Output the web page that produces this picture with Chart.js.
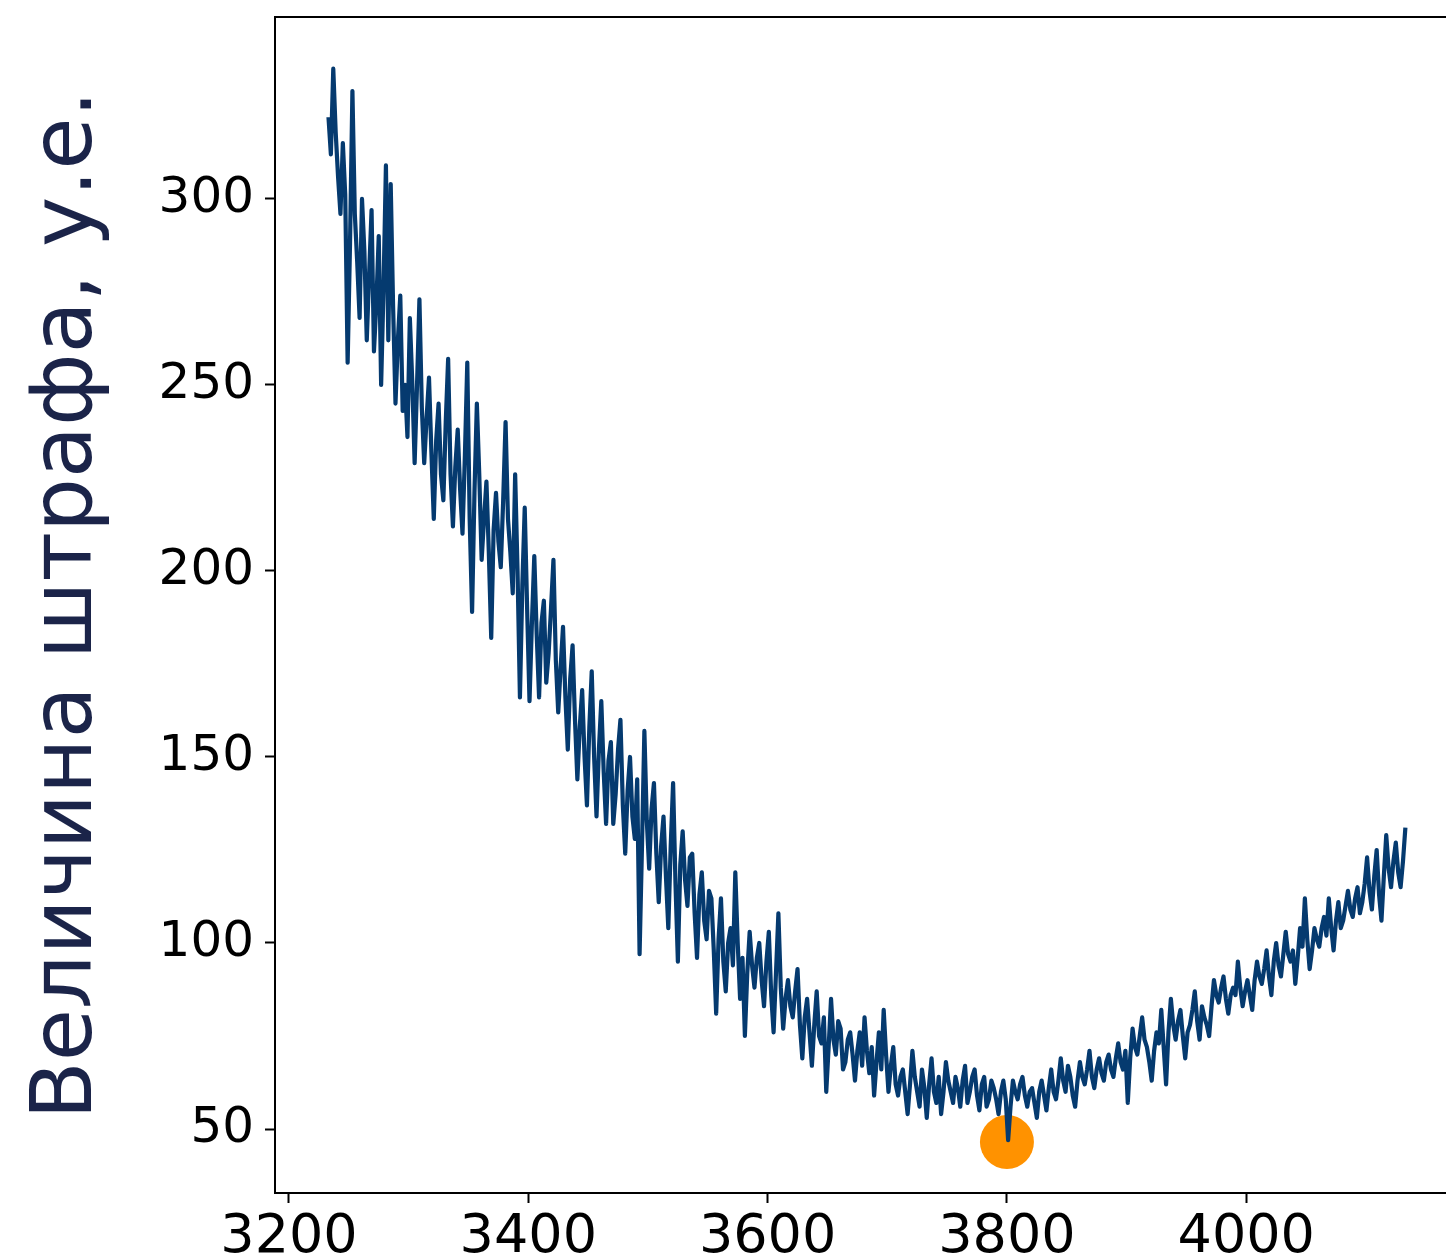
<!DOCTYPE html>
<html>
<head>
<meta charset="utf-8">
<script src="https://cdn.jsdelivr.net/npm/chart.js@4.4.1/dist/chart.umd.min.js"></script>
<style>
	html, body { margin: 0; padding: 0; background: #fff; }
	#wrap { width: 1446px; height: 1260px; overflow: hidden; }
</style>
</head>
<body>
<div id="wrap"><canvas id="penalty-chart" width="1470" height="1260"></canvas></div>
<script>
var xValues = [
	3233, 3235, 3237, 3239, 3241, 3243, 3245, 3247, 3249, 3251, 3253, 3255, 3257, 3259, 3261, 3263, 3265, 3267, 3269, 3271,
	3273, 3275, 3277, 3279, 3281, 3283, 3285, 3287, 3289, 3291, 3293, 3295, 3297, 3299, 3301, 3303, 3305, 3307, 3309, 3311,
	3313, 3315, 3317, 3319, 3321, 3323, 3325, 3327, 3329, 3331, 3333, 3335, 3337, 3339, 3341, 3343, 3345, 3347, 3349, 3351,
	3353, 3355, 3357, 3359, 3361, 3363, 3365, 3367, 3369, 3371, 3373, 3375, 3377, 3379, 3381, 3383, 3385, 3387, 3389, 3391,
	3393, 3395, 3397, 3399, 3401, 3403, 3405, 3407, 3409, 3411, 3413, 3415, 3417, 3419, 3421, 3423, 3425, 3427, 3429, 3431,
	3433, 3435, 3437, 3439, 3441, 3443, 3445, 3447, 3449, 3451, 3453, 3455, 3457, 3459, 3461, 3463, 3465, 3467, 3469, 3471,
	3473, 3475, 3477, 3479, 3481, 3483, 3485, 3487, 3489, 3491, 3493, 3495, 3497, 3499, 3501, 3503, 3505, 3507, 3509, 3511,
	3513, 3515, 3517, 3519, 3521, 3523, 3525, 3527, 3529, 3531, 3533, 3535, 3537, 3539, 3541, 3543, 3545, 3547, 3549, 3551,
	3553, 3555, 3557, 3559, 3561, 3563, 3565, 3567, 3569, 3571, 3573, 3575, 3577, 3579, 3581, 3583, 3585, 3587, 3589, 3591,
	3593, 3595, 3597, 3599, 3601, 3603, 3605, 3607, 3609, 3611, 3613, 3615, 3617, 3619, 3621, 3623, 3625, 3627, 3629, 3631,
	3633, 3635, 3637, 3639, 3641, 3643, 3645, 3647, 3649, 3651, 3653, 3655, 3657, 3659, 3661, 3663, 3665, 3667, 3669, 3671,
	3673, 3675, 3677, 3679, 3681, 3683, 3685, 3687, 3689, 3691, 3693, 3695, 3697, 3699, 3701, 3703, 3705, 3707, 3709, 3711,
	3713, 3715, 3717, 3719, 3721, 3723, 3725, 3727, 3729, 3731, 3733, 3735, 3737, 3739, 3741, 3743, 3745, 3747, 3749, 3751,
	3753, 3755, 3757, 3759, 3761, 3763, 3765, 3767, 3769, 3771, 3773, 3775, 3777, 3779, 3781, 3783, 3785, 3787, 3789, 3791,
	3793, 3795, 3797, 3799, 3801, 3803, 3805, 3807, 3809, 3811, 3813, 3815, 3817, 3819, 3821, 3823, 3825, 3827, 3829, 3831,
	3833, 3835, 3837, 3839, 3841, 3843, 3845, 3847, 3849, 3851, 3853, 3855, 3857, 3859, 3861, 3863, 3865, 3867, 3869, 3871,
	3873, 3875, 3877, 3879, 3881, 3883, 3885, 3887, 3889, 3891, 3893, 3895, 3897, 3899, 3901, 3903, 3905, 3907, 3909, 3911,
	3913, 3915, 3917, 3919, 3921, 3923, 3925, 3927, 3929, 3931, 3933, 3935, 3937, 3939, 3941, 3943, 3945, 3947, 3949, 3951,
	3953, 3955, 3957, 3959, 3961, 3963, 3965, 3967, 3969, 3971, 3973, 3975, 3977, 3979, 3981, 3983, 3985, 3987, 3989, 3991,
	3993, 3995, 3997, 3999, 4001, 4003, 4005, 4007, 4009, 4011, 4013, 4015, 4017, 4019, 4021, 4023, 4025, 4027, 4029, 4031,
	4033, 4035, 4037, 4039, 4041, 4043, 4045, 4047, 4049, 4051, 4053, 4055, 4057, 4059, 4061, 4063, 4065, 4067, 4069, 4071,
	4073, 4075, 4077, 4079, 4081, 4083, 4085, 4087, 4089, 4091, 4093, 4095, 4097, 4099, 4101, 4103, 4105, 4107, 4109, 4111,
	4113, 4115, 4117, 4119, 4121, 4123, 4125, 4127, 4129, 4131, 4133
];

var penaltyValues = [
	322, 312, 335, 318, 306, 296, 315, 301, 256, 288, 329, 296, 283, 268, 300, 286, 262, 280, 297, 259,
	272, 290, 250, 276, 309, 262, 304, 271, 245, 262, 274, 243, 250, 236, 268, 251, 229, 250, 273, 244,
	229, 241, 252, 232, 214, 235, 245, 226, 219, 240, 257, 226, 212, 228, 238, 222, 210, 231, 256, 214,
	189, 221, 245, 226, 203, 214, 224, 205, 182, 211, 221, 208, 201, 219, 240, 214, 205, 194, 226, 200,
	166, 196, 217, 190, 165, 186, 204, 183, 166, 186, 192, 170, 178, 190, 203, 176, 162, 174, 185, 166,
	152, 171, 180, 160, 144, 158, 168, 150, 137, 158, 173, 150, 134, 152, 165, 146, 132, 149, 154, 132,
	140, 152, 160, 137, 124, 141, 150, 134, 128, 144, 97, 126, 157, 133, 120, 136, 143, 124, 111, 126,
	134, 118, 104, 126, 143, 116, 95, 121, 130, 117, 110, 123, 124, 108, 96, 113, 119, 106, 101, 114,
	112, 98, 81, 101, 112, 95, 87, 100, 104, 94, 119, 100, 85, 96, 75, 92, 103, 94, 88, 96,
	100, 90, 83, 95, 103, 86, 76, 92, 108, 88, 77, 85, 90, 83, 80, 87, 93, 78, 69, 80,
	85, 76, 67, 78, 87, 75, 73, 80, 60, 72, 85, 74, 70, 79, 77, 66, 68, 74, 76, 70,
	63, 71, 76, 67, 80, 71, 65, 72, 59, 68, 76, 66, 82, 70, 60, 67, 72, 62, 59, 64,
	66, 60, 54, 62, 71, 64, 60, 56, 66, 61, 53, 62, 69, 60, 57, 64, 54, 60, 68, 63,
	60, 57, 64, 61, 56, 63, 67, 57, 60, 64, 66, 59, 55, 62, 64, 56, 58, 63, 61, 58,
	54, 60, 63, 58, 47, 56, 63, 60, 58, 62, 64, 59, 56, 60, 61, 57, 53, 60, 63, 59,
	55, 61, 66, 60, 58, 63, 69, 63, 60, 67, 64, 59, 56, 63, 68, 64, 62, 66, 71, 64,
	61, 66, 69, 65, 63, 68, 70, 66, 64, 69, 73, 68, 66, 71, 57, 69, 77, 72, 70, 75,
	80, 74, 72, 68, 63, 71, 76, 73, 82, 72, 62, 76, 85, 78, 74, 79, 82, 75, 69, 76,
	78, 82, 87, 79, 74, 83, 80, 78, 75, 83, 90, 86, 84, 88, 91, 85, 81, 86, 88, 86,
	95, 88, 83, 87, 90, 86, 82, 90, 95, 91, 89, 93, 98, 91, 86, 95, 100, 94, 91, 97,
	103, 97, 95, 98, 89, 96, 104, 99, 112, 101, 93, 98, 104, 101, 99, 104, 107, 102, 112, 104,
	98, 106, 111, 104, 106, 110, 114, 109, 107, 112, 115, 108, 111, 116, 123, 114, 109, 118, 125, 113,
	106, 118, 129, 120, 115, 122, 127, 119, 115, 122, 131
];

var minPointX = [3800];
var minPointY = [46.5];

var xTicks = [3200, 3400, 3600, 3800, 4000];
var yTicks = [50, 100, 150, 200, 250, 300];
var yTitle = 'Величина штрафа, у.е.';

( function () {
	'use strict';

	Chart.defaults.font.family = '"DejaVu Sans", sans-serif';
	Chart.defaults.color = '#000';

	var xRange = { min: 3188.3, max: 4187 };

	function toPoints( xs, ys ) {
		return xs.map( function ( x, i ) {
			return { x: x, y: ys[i] };
		} );
	}

	// keep the axis boxes at fixed sizes, no extra label padding
	function fixBox( size ) {
		return function ( scale ) {
			if ( scale.isHorizontal() ) {
				scale.height = size;
			} else {
				scale.width = size;
			}
			scale.paddingTop = 0;
			scale.paddingBottom = 0;
			scale.paddingLeft = 0;
			scale.paddingRight = 0;
		};
	}

	new Chart( document.getElementById( 'penalty-chart' ), {
		type: 'line',
		data: {
			datasets: [
				{
					data: toPoints( xValues, penaltyValues ),
					borderColor: '#053a6f',
					borderWidth: 4.2,
					borderJoinStyle: 'round',
					pointRadius: 0,
					tension: 0,
					fill: false,
				},
				{
					type: 'scatter',
					data: toPoints( minPointX, minPointY ),
					backgroundColor: '#ff9200',
					borderWidth: 0,
					pointRadius: 27,
				},
			],
		},
		options: {
			responsive: false,
			devicePixelRatio: 1,
			animation: false,
			layout: { padding: 0, autoPadding: false },
			plugins: {
				legend: { display: false },
				tooltip: { enabled: false },
			},
			scales: {
				x: {
					type: 'linear',
					position: 'bottom',
					min: xRange.min,
					max: xRange.max,
					afterBuildTicks: function ( scale ) {
						scale.ticks = xTicks.map( function ( v ) { return { value: v }; } );
					},
					afterFit: fixBox( 67 ),
					ticks: {
						font: { size: 54 },
						color: '#000',
						padding: 3,
						maxRotation: 0,
						autoSkip: false,
						callback: function ( v ) { return String( v ); },
					},
					grid: {
						drawOnChartArea: false,
						tickLength: 10,
						tickWidth: 2,
						color: '#000',
					},
					border: { color: '#000', width: 2 },
				},
				xTop: {
					type: 'linear',
					position: 'top',
					min: xRange.min,
					max: xRange.max,
					afterBuildTicks: function ( scale ) {
						scale.ticks = [];
					},
					afterFit: fixBox( 17 ),
					ticks: { display: false },
					grid: { display: false },
					border: { color: '#000', width: 2 },
				},
				y: {
					type: 'linear',
					min: 32.8,
					max: 348.9,
					afterBuildTicks: function ( scale ) {
						scale.ticks = yTicks.map( function ( v ) { return { value: v }; } );
					},
					afterFit: fixBox( 275 ),
					ticks: {
						font: { size: 50 },
						color: '#000',
						padding: 11,
					},
					grid: {
						drawOnChartArea: false,
						tickLength: 10,
						tickWidth: 2,
						color: '#000',
					},
					border: { color: '#000', width: 2 },
					title: {
						display: true,
						text: yTitle,
						color: '#1b2449',
						font: { size: 85 },
						padding: { top: 18, bottom: 0 },
					},
				},
			},
		},
	} );
}() );
</script>
</body>
</html>
